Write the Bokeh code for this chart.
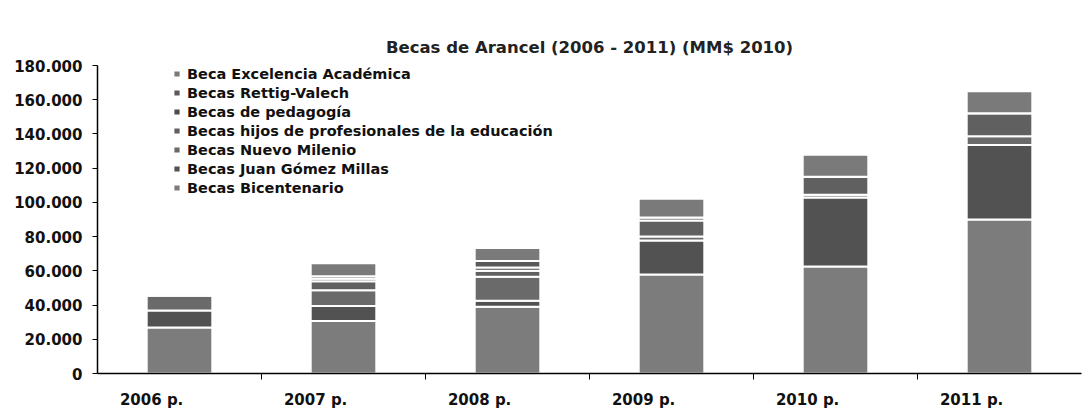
from bokeh.plotting import figure
from bokeh.models import ColumnDataSource, FixedTicker, Legend, LegendItem, Range1d
from bokeh.embed import file_html
from bokeh.resources import INLINE

# ---- data (MM$ 2010) ----
years = ["2006 p.", "2007 p.", "2008 p.", "2009 p.", "2010 p.", "2011 p."]

bicentenario = [26900, 30700, 39000, 57800, 62500, 90000]
juan_gomez_millas = [9900, 8700, 3500, 20000, 40300, 43500]
nuevo_milenio = [8700, 9300, 14000, 2300, 1700, 5200]
hijos_profesionales = [1300, 5200, 3500, 9300, 10500, 13400]
pedagogia = [0, 1500, 2000, 1700, 0, 0]
rettig_valech = [0, 1500, 3800, 0, 0, 0]
excelencia_academica = [0, 7600, 7600, 11000, 12800, 12800]

series_names = [
    "Becas Bicentenario",
    "Becas Juan Gómez Millas",
    "Becas Nuevo Milenio",
    "Becas hijos de profesionales de la educación",
    "Becas de pedagogía",
    "Becas Rettig-Valech",
    "Beca Excelencia Académica",
]
series_keys = ["bic", "jgm", "nm", "hijos", "ped", "rettig", "exc"]
series_values = [bicentenario, juan_gomez_millas, nuevo_milenio,
                 hijos_profesionales, pedagogia, rettig_valech,
                 excelencia_academica]

y_ticks = [0, 20000, 40000, 60000, 80000, 100000, 120000, 140000, 160000, 180000]
y_tick_labels = ["0", "20.000", "40.000", "60.000", "80.000", "100.000",
                 "120.000", "140.000", "160.000", "180.000"]

colors = ["#7c7c7c", "#525252", "#6a6a6a", "#606060", "#4c4c4c", "#5a5a5a", "#7a7a7a"]

FONT = "DejaVu Sans"

data = {"x": [i + 0.5 for i in range(len(years))]}
for k, v in zip(series_keys, series_values):
    data[k] = v
source = ColumnDataSource(data)

p = figure(width=1085, height=419, output_backend="svg", toolbar_location=None,
           x_range=Range1d(0, len(years)), y_range=Range1d(0, 180000),
           min_border_left=97, min_border_right=4, min_border_top=65,
           min_border_bottom=46)
p.outline_line_color = None
p.xgrid.visible = False
p.ygrid.visible = False
p.background_fill_color = "white"
p.border_fill_color = "white"

renderers = p.vbar_stack(series_keys, x="x", width=0.4, color=colors,
                         source=source, line_color="white", line_width=2)

# title
p.title.text = "Becas de Arancel (2006 - 2011) (MM$ 2010)"
p.title.align = "center"
p.title.text_font = FONT
p.title.text_font_size = "16.5px"
p.title.text_font_style = "bold"
p.title.text_color = "#222222"
p.title.standoff = 18

# x axis: labels slightly left of bars, ticks at category boundaries
label_pos = [i + 0.33 for i in range(len(years))]
xa = p.xaxis[0]
xa.ticker = FixedTicker(ticks=label_pos, minor_ticks=list(range(1, len(years))))
xa.major_label_overrides = {t: lab for t, lab in zip(label_pos, years)}
xa.major_tick_line_color = None
xa.minor_tick_out = 6
xa.minor_tick_in = 0
xa.minor_tick_line_color = "black"
xa.axis_line_color = "black"
xa.axis_line_width = 1.5
xa.major_label_standoff = 11
xa.major_label_text_font = FONT
xa.major_label_text_font_size = "15px"
xa.major_label_text_font_style = "bold"
xa.major_label_text_color = "#111111"

ya = p.yaxis[0]
ya.ticker = FixedTicker(ticks=y_ticks, minor_ticks=[])
ya.major_label_overrides = {t: lab for t, lab in zip(y_ticks, y_tick_labels)}
ya.major_tick_out = 5
ya.major_tick_in = 0
ya.axis_line_color = "black"
ya.axis_line_width = 1.5
ya.major_label_standoff = 10
ya.major_label_text_font = FONT
ya.major_label_text_font_size = "15px"
ya.major_label_text_font_style = "bold"
ya.major_label_text_color = "#111111"

items = [LegendItem(label=n, renderers=[r]) for n, r in zip(series_names, renderers)]
items = items[::-1]
legend = Legend(items=items, location=(75, 177), orientation="vertical",
                padding=0, margin=0, spacing=2, label_height=17,
                glyph_width=9, glyph_height=9, label_standoff=6,
                label_text_font=FONT, label_text_font_size="14.5px",
                label_text_font_style="bold", label_text_color="#111111",
                background_fill_alpha=0, border_line_color=None)
p.add_layout(legend, "center")

open("out.html", "w").write(file_html(p, INLINE))
